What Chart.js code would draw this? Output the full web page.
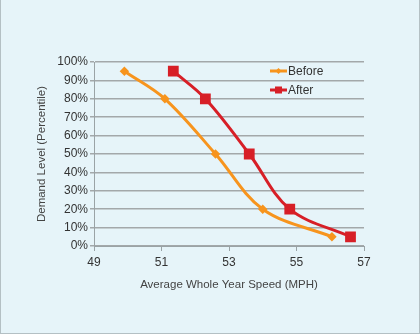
<!DOCTYPE html>
<html>
<head>
<meta charset="utf-8">
<script src="https://cdn.jsdelivr.net/npm/chart.js@4.4.1/dist/chart.umd.min.js"></script>
<style>
  html, body { margin: 0; padding: 0; background: #e6f4f9; }
  #wrap { width: 418px; height: 333px; border: 1px solid #b4c0c4; border-top: none; position: relative; }
  canvas { display: block; }
</style>
</head>
<body>
<div id="wrap"><canvas id="chart" width="418" height="333"></canvas></div>
<script>
// values
const beforeSpeed = [49.9, 51.1, 52.6, 54.0, 56.05];
const beforeDemand = [95, 80, 50, 20, 5];
const afterSpeed = [51.35, 52.3, 53.6, 54.8, 56.6];
const afterDemand = [95, 80, 50, 20, 5];
const seriesNames = ["Before", "After"];
const xTicks = [49, 51, 53, 55, 57];

const orange = "#f7941d";
const red = "#d71f27";
const font = "'Liberation Sans', Arial, sans-serif";

const toPoints = (xs, ys) => xs.map((x, i) => ({ x: x, y: ys[i] }));

// legend drawn inside the plot, stacked like the Excel one
const insideLegend = {
    id: "insideLegend",
    afterDraw(chart) {
        const ctx = chart.ctx;
        chart.data.datasets.forEach((ds, i) => {
            const y = 71 + i * 19;
            const x0 = 269;
            ctx.save();
            ctx.strokeStyle = ds.borderColor;
            ctx.lineWidth = 3;
            ctx.beginPath();
            ctx.moveTo(x0, y);
            ctx.lineTo(x0 + 17, y);
            ctx.stroke();
            ctx.fillStyle = ds.backgroundColor;
            const cx = x0 + 8.5;
            if (ds.pointStyle === "rect") {
                ctx.fillRect(cx - 3.5, y - 3.5, 7, 7);
            } else {
                ctx.beginPath();
                ctx.moveTo(cx, y - 3);
                ctx.lineTo(cx + 3, y);
                ctx.lineTo(cx, y + 3);
                ctx.lineTo(cx - 3, y);
                ctx.closePath();
                ctx.fill();
            }
            ctx.fillStyle = "#333";
            ctx.font = "12px " + font;
            ctx.textBaseline = "middle";
            ctx.fillText(ds.label, x0 + 18, y + 0.5);
            ctx.restore();
        });
    }
};

new Chart(document.getElementById("chart"), {
    type: "scatter",
    data: {
        datasets: [
            {
                label: seriesNames[0],
                data: toPoints(beforeSpeed, beforeDemand),
                showLine: true,
                borderColor: orange,
                backgroundColor: orange,
                borderWidth: 3,
                tension: 0.35,
                pointStyle: "rectRot",
                pointRadius: 2.6,
                pointHoverRadius: 2.6,
            },
            {
                label: seriesNames[1],
                data: toPoints(afterSpeed, afterDemand),
                showLine: true,
                borderColor: red,
                backgroundColor: red,
                borderWidth: 3,
                tension: 0.35,
                pointStyle: "rect",
                pointRadius: 5.5,
                pointHoverRadius: 5.5,
            },
        ],
    },
    options: {
        responsive: false,
        animation: false,
        layout: { padding: { left: 30, top: 62, right: 55, bottom: 37 } },
        plugins: {
            legend: { display: false },
            tooltip: { enabled: false },
        },
        scales: {
            x: {
                type: "linear",
                min: 49,
                max: 57,
                afterBuildTicks: (axis) => {
                    axis.ticks = xTicks.map((v) => ({ value: v }));
                },
                afterFit: (axis) => { axis.height = 50; },
                ticks: {
                    color: "#333",
                    font: { family: font, size: 12 },
                    padding: 4,
                },
                grid: {
                    drawOnChartArea: false,
                    drawTicks: true,
                    tickLength: 5,
                    color: "#9aa3a6",
                },
                border: { color: "#9aa3a6", width: 1 },
                title: {
                    display: true,
                    text: "Average Whole Year Speed (MPH)",
                    color: "#444",
                    font: { family: font, size: 11.5 },
                    padding: { top: 12 },
                },
            },
            y: {
                min: 0,
                max: 100,
                afterFit: (axis) => { axis.width = 63; },
                ticks: {
                    stepSize: 10,
                    color: "#333",
                    font: { family: font, size: 12 },
                    padding: 2,
                    callback: (v) => v + "%",
                },
                grid: {
                    color: "#a3a8aa",
                    lineWidth: 1.5,
                    tickLength: 4,
                },
                border: { color: "#9aa3a6", width: 1 },
                title: {
                    display: true,
                    text: "Demand Level (Percentile)",
                    color: "#444",
                    font: { family: font, size: 11.5 },
                    padding: { top: 4 },
                },
            },
        },
    },
    plugins: [insideLegend],
});
</script>
</body>
</html>
